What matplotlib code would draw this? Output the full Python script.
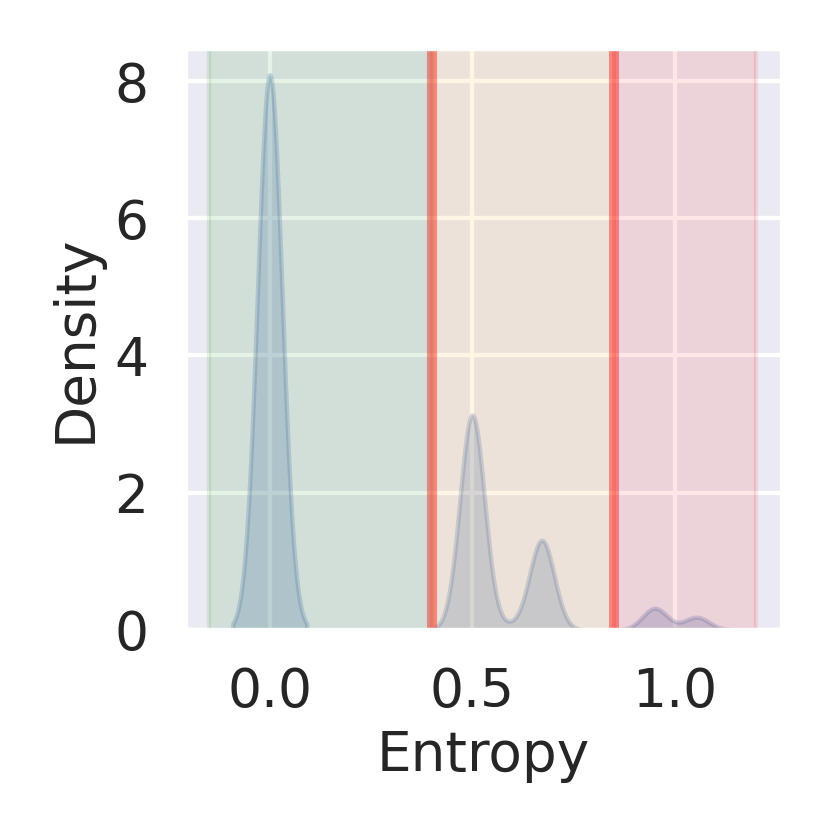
import matplotlib
matplotlib.use("Agg")
import matplotlib.pyplot as plt
import numpy as np
import seaborn as sns

# entropy values and how many samples sit at each
low_values = [0.0]
low_counts = [620]
mid_values = [0.5, 0.59, 0.672]
mid_counts = [240, 4, 100]
high_values = [0.951, 1.054]
high_counts = [24, 14]

groups = [
    (low_values, low_counts),
    (mid_values, mid_counts),
    (high_values, high_counts),
]

# entropy bands and thresholds
band_edges = [-0.15, 0.4, 0.85, 1.2]
band_colors = ["green", "orange", "red"]
thresholds = [0.4, 0.85]

x_ticks = [0.0, 0.5, 1.0]
y_ticks = [0, 2, 4, 6, 8]

bw = 0.0305
kde_color = "#4c72b0"

sns.set_theme(style="darkgrid", context="talk")
plt.rcParams["xtick.labelsize"] = 18.5
plt.rcParams["ytick.labelsize"] = 18.5
plt.rcParams["axes.labelsize"] = 19

fig, ax = plt.subplots(figsize=(4, 4), dpi=208)
fig.subplots_adjust(left=0.222, right=0.94, bottom=0.243, top=0.942)

total = sum(sum(c) for _, c in groups)
for values, counts in groups:
    v = np.asarray(values, dtype=float)
    c = np.asarray(counts, dtype=float)
    support = np.linspace(v.min() - 3 * bw, v.max() + 3 * bw, 300)
    dens = np.zeros_like(support)
    for vi, ci in zip(v, c):
        dens += ci * np.exp(-0.5 * ((support - vi) / bw) ** 2)
    dens /= total * bw * np.sqrt(2 * np.pi)
    ax.fill_between(support, 0, dens, color=kde_color, alpha=0.25)

for lo, hi, col in zip(band_edges[:-1], band_edges[1:], band_colors):
    ax.axvspan(lo, hi, color=col, alpha=0.1)

for t in thresholds:
    ax.axvline(t, color="red", alpha=0.4, lw=3.5)

ax.set_xlim(-0.21, 1.265)
ax.set_ylim(0, 8.48)
ax.set_xticks(x_ticks)
ax.set_yticks(y_ticks)
ax.set_xlabel("Entropy")
ax.set_ylabel("Density")

fig.savefig("out.png", dpi=208)
